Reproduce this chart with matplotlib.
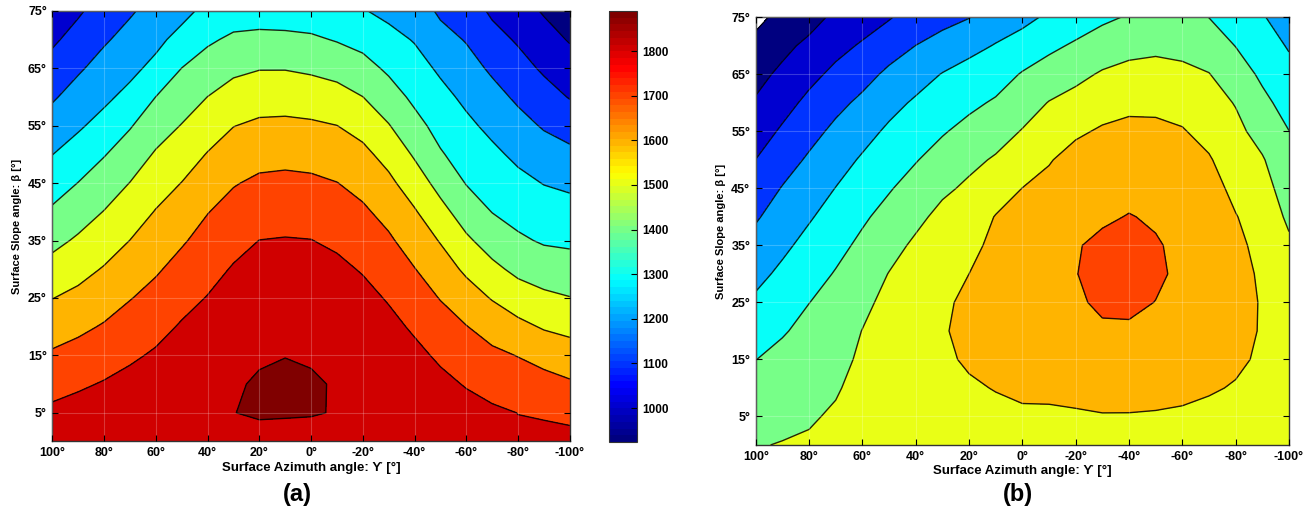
import numpy as np
import matplotlib.pyplot as plt
from matplotlib.colors import Normalize, LinearSegmentedColormap
from matplotlib.cm import ScalarMappable

plt.rcParams['font.family'] = ['Liberation Sans', 'DejaVu Sans']
plt.rcParams['font.weight'] = 'bold'
plt.rcParams['axes.labelweight'] = 'bold'

# grid of the two maps
azimuth = [100, 90, 80, 70, 60, 50, 40, 30, 20, 10, 0,
           -10, -20, -30, -40, -50, -60, -70, -80, -90, -100]
slope = [0, 5, 10, 15, 20, 25, 30, 35, 40, 45, 50, 55, 60, 65, 70, 75]

# yearly irradiation (kWh/m2), one list per azimuth column, slope 0..75
irr_a = [
    [1825, 1820, 1767, 1713, 1656, 1598, 1535, 1474, 1414, 1356, 1299, 1243, 1189, 1137, 1084, 1032],
    [1835, 1838, 1786, 1734, 1680, 1624, 1569, 1513, 1458, 1402, 1344, 1287, 1238, 1188, 1137, 1087],
    [1825, 1820, 1807, 1757, 1708, 1658, 1607, 1555, 1503, 1450, 1395, 1334, 1280, 1235, 1189, 1144],
    [1835, 1835, 1829, 1785, 1741, 1696, 1649, 1601, 1552, 1502, 1448, 1393, 1328, 1275, 1232, 1189],
    [1840, 1840, 1825, 1812, 1771, 1730, 1689, 1647, 1605, 1558, 1510, 1456, 1401, 1327, 1275, 1235],
    [1845, 1845, 1840, 1830, 1809, 1770, 1731, 1690, 1646, 1602, 1553, 1504, 1452, 1401, 1334, 1269],
    [1845, 1848, 1845, 1838, 1825, 1804, 1768, 1733, 1697, 1651, 1605, 1553, 1501, 1443, 1386, 1329],
    [1845, 1859, 1850, 1840, 1830, 1818, 1808, 1770, 1733, 1694, 1646, 1598, 1540, 1480, 1417, 1353],
    [1835, 1868, 1870, 1850, 1840, 1828, 1815, 1801, 1758, 1717, 1669, 1617, 1558, 1496, 1425, 1355],
    [1835, 1866, 1880, 1858, 1842, 1830, 1818, 1805, 1765, 1722, 1674, 1620, 1560, 1496, 1423, 1351],
    [1835, 1864, 1872, 1850, 1838, 1825, 1812, 1802, 1759, 1717, 1668, 1614, 1551, 1485, 1415, 1345],
    [1835, 1857, 1852, 1845, 1838, 1830, 1823, 1782, 1742, 1702, 1652, 1601, 1536, 1467, 1394, 1322],
    [1838, 1848, 1848, 1845, 1840, 1831, 1792, 1754, 1715, 1671, 1624, 1567, 1501, 1434, 1370, 1306],
    [1835, 1843, 1842, 1838, 1829, 1791, 1752, 1714, 1670, 1622, 1567, 1505, 1443, 1384, 1330, 1276],
    [1832, 1838, 1835, 1826, 1785, 1744, 1703, 1656, 1609, 1549, 1489, 1431, 1380, 1337, 1294, 1251],
    [1830, 1832, 1826, 1783, 1740, 1696, 1646, 1594, 1530, 1468, 1409, 1367, 1328, 1285, 1234, 1184],
    [1835, 1838, 1793, 1748, 1703, 1644, 1583, 1516, 1454, 1396, 1358, 1320, 1280, 1237, 1194, 1151],
    [1825, 1815, 1768, 1720, 1661, 1594, 1523, 1458, 1398, 1359, 1320, 1277, 1232, 1185, 1134, 1084],
    [1815, 1799, 1749, 1697, 1625, 1548, 1477, 1415, 1368, 1325, 1280, 1232, 1184, 1136, 1089, 1041],
    [1840, 1786, 1732, 1669, 1591, 1520, 1452, 1390, 1344, 1297, 1244, 1191, 1138, 1086, 1038, 991],
    [1834, 1773, 1712, 1644, 1574, 1503, 1441, 1383, 1334, 1282, 1223, 1159, 1095, 1044, 993, 942],
]

irr_b = [
    [1495, 1466, 1433, 1399, 1358, 1316, 1274, 1233, 1190, 1145, 1101, 1055, 1009, 974, 941, 908],
    [1504, 1477, 1450, 1422, 1393, 1356, 1319, 1281, 1243, 1205, 1159, 1113, 1066, 1018, 978, 942],
    [1512, 1490, 1467, 1445, 1422, 1399, 1364, 1328, 1291, 1252, 1213, 1169, 1123, 1073, 1020, 967],
    [1534, 1512, 1491, 1470, 1448, 1427, 1406, 1374, 1338, 1302, 1262, 1221, 1175, 1123, 1071, 1019],
    [1560, 1545, 1531, 1516, 1502, 1475, 1447, 1419, 1387, 1349, 1311, 1267, 1220, 1168, 1111, 1055],
    [1570, 1568, 1562, 1555, 1545, 1530, 1503, 1466, 1430, 1393, 1354, 1316, 1270, 1219, 1159, 1093],
    [1575, 1578, 1580, 1580, 1575, 1563, 1545, 1517, 1476, 1436, 1395, 1354, 1313, 1260, 1201, 1142],
    [1575, 1583, 1588, 1592, 1596, 1592, 1578, 1560, 1527, 1482, 1437, 1392, 1348, 1304, 1237, 1169],
    [1570, 1585, 1594, 1606, 1612, 1610, 1600, 1578, 1549, 1517, 1477, 1428, 1380, 1332, 1275, 1197],
    [1570, 1588, 1602, 1620, 1630, 1634, 1630, 1620, 1604, 1557, 1510, 1461, 1411, 1359, 1305, 1252],
    [1575, 1590, 1612, 1630, 1642, 1648, 1648, 1640, 1624, 1601, 1552, 1505, 1456, 1407, 1341, 1273],
    [1565, 1585, 1620, 1642, 1657, 1665, 1668, 1664, 1652, 1628, 1593, 1549, 1504, 1443, 1380, 1316],
    [1570, 1590, 1625, 1655, 1675, 1690, 1698, 1695, 1685, 1668, 1637, 1584, 1532, 1476, 1413, 1349],
    [1575, 1595, 1635, 1665, 1690, 1712, 1722, 1715, 1690, 1665, 1640, 1612, 1558, 1510, 1447, 1382],
    [1572, 1594, 1640, 1670, 1692, 1712, 1722, 1718, 1703, 1680, 1655, 1625, 1577, 1528, 1471, 1408],
    [1572, 1592, 1630, 1660, 1683, 1699, 1710, 1706, 1692, 1675, 1652, 1624, 1575, 1532, 1481, 1420],
    [1570, 1588, 1620, 1650, 1670, 1682, 1688, 1685, 1675, 1658, 1635, 1606, 1569, 1521, 1475, 1433],
    [1565, 1582, 1607, 1632, 1650, 1660, 1665, 1662, 1652, 1635, 1608, 1572, 1538, 1503, 1452, 1399],
    [1555, 1575, 1595, 1612, 1625, 1630, 1628, 1620, 1604, 1577, 1550, 1524, 1495, 1447, 1398, 1350],
    [1550, 1565, 1580, 1590, 1594, 1594, 1588, 1575, 1558, 1535, 1508, 1465, 1423, 1383, 1345, 1307],
    [1535, 1545, 1553, 1558, 1558, 1552, 1538, 1515, 1484, 1456, 1429, 1401, 1365, 1329, 1292, 1256],
]

levels = [924, 1000, 1100, 1200, 1300, 1400, 1500, 1600, 1700, 1800, 1860, 1900]
band_values = [924, 1000, 1100, 1200, 1300, 1400, 1500, 1600, 1700, 1800, 1890]
cbar_ticks = [1000, 1100, 1200, 1300, 1400, 1500, 1600, 1700, 1800]
x_ticks = [100, 80, 60, 40, 20, 0, -20, -40, -60, -80, -100]
y_ticks = [5, 15, 25, 35, 45, 55, 65, 75]

# matlab style jet
mjet = LinearSegmentedColormap('mjet', {
    'red': [(0, 0, 0), (0.375, 0, 0), (0.625, 1, 1), (0.875, 1, 1), (1, 0.5, 0.5)],
    'green': [(0, 0, 0), (0.125, 0, 0), (0.375, 1, 1), (0.625, 1, 1), (0.875, 0, 0), (1, 0, 0)],
    'blue': [(0, 0.5, 0.5), (0.125, 1, 1), (0.375, 1, 1), (0.625, 0, 0), (1, 0, 0)],
}, N=64)

norm = Normalize(924, 1890)
band_colors = mjet(norm(np.array(band_values)))

fig = plt.figure(figsize=(13.15, 5.13), dpi=100)
ax_a = fig.add_axes([0.0398, 0.1394, 0.3935, 0.8392])
cax = fig.add_axes([0.4633, 0.1384, 0.0213, 0.8402])
ax_b = fig.add_axes([0.5747, 0.1326, 0.4055, 0.8337])


def draw_map(ax, irr):
    z = np.array(irr).T
    ax.contourf(azimuth, slope, z, levels=levels, colors=band_colors)
    ax.contour(azimuth, slope, z, levels=levels[:-1], colors='k',
               linewidths=1.0, alpha=0.85)
    ax.set_xlim(100, -100)
    ax.set_ylim(0, 75)
    ax.set_xticks(x_ticks)
    ax.set_xticklabels(['%d°' % t for t in x_ticks])
    ax.set_yticks(y_ticks)
    ax.set_yticklabels(['%d°' % t for t in y_ticks])
    ax.tick_params(direction='in', top=True, right=True, length=4,
                   labelsize=9, width=0.8, pad=4)
    ax.grid(True, color='white', alpha=0.22, lw=0.8)
    ax.set_axisbelow(False)
    for sp in ax.spines.values():
        sp.set_color('#333333')
        sp.set_linewidth(1.0)
    ax.set_xlabel('Surface Azimuth angle: ϒ [°]', fontsize=9.5, labelpad=2)
    ax.set_ylabel('Surface Slope angle: β [°]', fontsize=8, labelpad=4)


draw_map(ax_a, irr_a)
draw_map(ax_b, irr_b)

cb = fig.colorbar(ScalarMappable(norm=norm, cmap=mjet), cax=cax)
cb.set_ticks(cbar_ticks)
cb.ax.tick_params(direction='in', length=4, labelsize=8.5, width=0.8)
cb.outline.set_edgecolor('#333333')

fig.text(297 / 1315, 1 - 494 / 513, '(a)', ha='center', va='center',
         fontsize=17, weight='bold')
fig.text(1018 / 1315, 1 - 494 / 513, '(b)', ha='center', va='center',
         fontsize=17, weight='bold')

plt.savefig('out.png', dpi=100)
